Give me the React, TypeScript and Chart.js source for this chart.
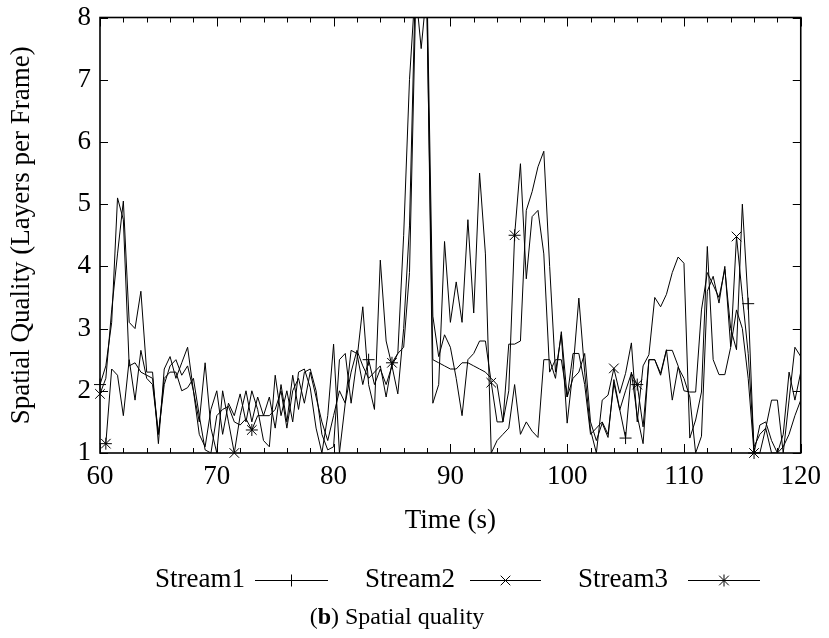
import { useEffect, useRef } from 'react';
import { Chart, registerables } from 'chart.js';

Chart.register(...registerables);

// ---- data ----
const times = [
  60, 60.5, 61, 61.5, 62, 62.5, 63, 63.5, 64, 64.5,
  65, 65.5, 66, 66.5, 67, 67.5, 68, 68.5, 69, 69.5,
  70, 70.5, 71, 71.5, 72, 72.5, 73, 73.5, 74, 74.5,
  75, 75.5, 76, 76.5, 77, 77.5, 78, 78.5, 79, 79.5,
  80, 80.5, 81, 81.5, 82, 82.5, 83, 83.5, 84, 84.5,
  85, 85.5, 86, 86.5, 87, 87.5, 88, 88.5, 89, 89.5,
  90, 90.5, 91, 91.5, 92, 92.5, 93, 93.5, 94, 94.5,
  95, 95.5, 96, 96.5, 97, 97.5, 98, 98.5, 99, 99.5,
  100, 100.5, 101, 101.5, 102, 102.5, 103, 103.5, 104, 104.5,
  105, 105.5, 106, 106.5, 107, 107.5, 108, 108.5, 109, 109.5,
  110, 110.5, 111, 111.5, 112, 112.5, 113, 113.5, 114, 114.5,
  115, 115.5, 116, 116.5, 117, 117.5, 118, 118.5, 119, 119.5,
  120,
];

const stream1 = [
  2.1, 2.4, 3.1, 5.1, 4.75, 2.4, 2.45, 2.3, 2.25, 2.2,
  1.3, 2.1, 2.4, 2.5, 2.25, 2.4, 2.0, 1.3, 1.1, 1.7,
  2.0, 1.3, 1.8, 1.6, 1.95, 1.5, 2.0, 1.7, 1.2, 1.1,
  2.25, 1.6, 2.0, 1.5, 2.3, 2.35, 2.05, 1.4, 1.0, 1.6,
  2.75, 1.0, 1.8, 2.65, 2.6, 2.1, 2.5, 2.1, 2.35, 2.1,
  2.4, 1.95, 3.0, 4.65, 8.5, 8.5, 8.2, 1.8, 2.1, 4.4,
  3.1, 3.75, 3.1, 4.75, 3.25, 5.5, 4.2, 1.0, 1.2, 1.3,
  1.4, 2.1, 1.3, 1.5, 1.35, 1.25, 2.5, 2.5, 2.2, 2.95,
  1.9, 2.2, 2.3, 2.6, 1.5, 1.2, 1.48, 1.25, 2.18, 1.7,
  1.24, 2.3, 1.6, 1.15, 2.5, 2.5, 2.25, 2.65, 2.65, 2.4,
  2.0, 1.98, 1.98, 3.3, 3.9, 3.7, 3.5, 3.95, 3.0, 2.66,
  5.0, 3.4, 1.0, 1.45, 1.5, 1.2, 1.0, 1.3, 2.3, 1.85,
  2.3,
];

const stream2 = [
  1.95, 2.2, 3.3, 4.2, 5.05, 3.1, 3.0, 3.6, 2.3, 2.3,
  1.15, 2.35, 2.55, 2.2, 2.45, 2.7, 2.0, 1.5, 2.45, 1.4,
  1.0, 2.0, 1.5, 1.0, 1.6, 2.0, 1.5, 1.9, 1.6, 1.9,
  1.4, 2.1, 1.5, 2.25, 1.7, 2.3, 2.35, 2.0, 1.3, 1.05,
  1.1, 2.5, 2.6, 1.8, 2.5, 3.35, 2.1, 1.7, 4.1, 2.8,
  2.4, 2.6, 4.5, 7.0, 8.5, 7.5, 8.5, 3.2, 2.55, 2.9,
  2.7, 2.2, 1.6, 2.5, 2.6, 2.8, 2.8, 2.13, 1.5, 1.5,
  2.75, 2.75, 2.8, 4.9, 5.2, 5.6, 5.85, 4.0, 2.3, 2.9,
  1.48, 2.34, 3.49, 2.3, 1.37, 1.0, 1.85, 1.93, 2.36, 1.96,
  2.28, 2.77, 1.5, 2.4, 2.58, 3.5, 3.35, 3.55, 3.9, 4.15,
  4.05, 1.24, 1.53, 1.98, 4.32, 2.5, 2.26, 2.26, 2.7, 4.48,
  3.52, 2.6, 1.1, 1.3, 1.4, 1.85, 1.85, 1.0, 1.85, 2.7,
  2.55,
];

const stream3 = [
  null, 1.15, 2.35, 2.25, 1.6, 2.5, 1.85, 2.65, 2.2, 2.1,
  1.3, 2.2, 2.3, 2.3, 2.0, 2.05, 2.2, 1.6, 1.05, 1.0,
  1.6, 1.7, 1.75, 1.5, 1.45, 1.55, 1.37, 1.6, 1.6, 1.6,
  1.7, 2.0, 1.4, 2.0, 2.2, 1.8, 2.3, 1.9, 1.5, 1.2,
  1.6, 2.0, 1.8, 2.3, 2.65, 2.4, 2.2, 2.3, 2.4, 1.9,
  2.45, 2.6, 2.7, 3.9, 8.0, 8.5, 8.0, 2.5, 2.45, 2.4,
  2.35, 2.35, 2.45, 2.45, 2.4, 2.35, 2.3, 2.2, 2.1, 1.5,
  2.0, 4.5, 5.65, 3.8, 4.8, 4.9, 4.2, 2.3, 2.5, 2.5,
  1.9, 2.6, 2.6, 2.1, 1.3, 1.4, 1.5, 1.3, 2.12, 1.69,
  2.0, 2.28, 2.1, 1.42, 2.5, 2.5, 2.28, 2.66, 1.85, 2.38,
  2.2, 1.9, 1.0, 1.27, 3.6, 3.84, 3.41, 4.0, 2.71, 3.3,
  3.0, 2.2, 1.0, 1.0, 1.4, 1.0, 1.0, 1.1, 1.3, 1.6,
  1.85,
];

// indices of points that carry a marker
const stream1Markers = [0, 46, 90, 111];
const stream2Markers = [0, 23, 67, 88, 109];
const stream3Markers = [1, 26, 50, 71, 92, 112];

const seriesNames = ['Stream1', 'Stream2', 'Stream3'];
const seriesValues = [stream1, stream2, stream3];
const seriesMarkers = [stream1Markers, stream2Markers, stream3Markers];
const seriesStyles = ['cross', 'crossRot', 'star'];

const xMin = 60;
const xMax = 120;
const xStep = 10;
const xMinorStep = 2;
const yMin = 1;
const yMax = 8;
const yStep = 1;

const xTitle = 'Time (s)';
const yTitle = 'Spatial Quality (Layers per Frame)';
const captionLabel = 'b';
const captionText = ' Spatial quality';

const FONT = '"Liberation Serif", "Times New Roman", serif';
const BIG = 27;
const MARK_R = 6;

function drawMarker(ctx: CanvasRenderingContext2D, style: string, x: number, y: number, r: number) {
  ctx.beginPath();
  if (style === 'cross' || style === 'star') {
    ctx.moveTo(x - r, y);
    ctx.lineTo(x + r, y);
    ctx.moveTo(x, y - r);
    ctx.lineTo(x, y + r);
  }
  if (style === 'crossRot' || style === 'star') {
    const d = r * 0.8;
    ctx.moveTo(x - d, y - d);
    ctx.lineTo(x + d, y + d);
    ctx.moveTo(x - d, y + d);
    ctx.lineTo(x + d, y - d);
  }
  ctx.stroke();
}

const framePlugin = {
  id: 'gnuFrame',
  afterDatasetsDraw(chart: any) {
    const { ctx, chartArea: a, scales } = chart;
    const xs = scales.x;
    const ys = scales.y;
    ctx.save();
    ctx.strokeStyle = '#000';
    ctx.lineWidth = 1;
    // markers drawn at the library's own point positions
    chart.data.datasets.forEach((ds: any, i: number) => {
      const meta = chart.getDatasetMeta(i);
      seriesMarkers[i].forEach((idx) => {
        const el = meta.data[idx];
        if (el && Number.isFinite(el.x) && Number.isFinite(el.y)) {
          drawMarker(ctx, seriesStyles[i], el.x, el.y, MARK_R);
        }
      });
    });
    ctx.beginPath();
    // minor + major x ticks, inward, top and bottom
    for (let v = xs.min; v <= xs.max + 1e-9; v += xMinorStep) {
      const px = Math.round(xs.getPixelForValue(v)) + 0.5;
      const major = Math.abs((v - xs.min) % xStep) < 1e-9;
      const len = major ? 9 : 5;
      ctx.moveTo(px, a.bottom);
      ctx.lineTo(px, a.bottom - len);
      ctx.moveTo(px, a.top);
      ctx.lineTo(px, a.top + len);
    }
    ys.ticks.forEach((t: any) => {
      const py = Math.round(ys.getPixelForValue(t.value)) + 0.5;
      ctx.moveTo(a.left, py);
      ctx.lineTo(a.left + 8, py);
      ctx.moveTo(a.right, py);
      ctx.lineTo(a.right - 8, py);
    });
    ctx.stroke();
    ctx.lineWidth = 1.6;
    ctx.strokeRect(a.left, a.top, a.right - a.left, a.bottom - a.top);
    ctx.restore();
  },
  afterDraw(chart: any) {
    const { ctx, chartArea: a } = chart;
    ctx.save();
    ctx.fillStyle = '#000';
    ctx.strokeStyle = '#000';
    // y title
    ctx.font = `${BIG}px ${FONT}`;
    ctx.textAlign = 'center';
    ctx.textBaseline = 'middle';
    ctx.save();
    ctx.translate(22, (a.top + a.bottom) / 2);
    ctx.rotate(-Math.PI / 2);
    ctx.fillText(yTitle, 0, 0);
    ctx.restore();
    // x title
    ctx.fillText(xTitle, (a.left + a.right) / 2, 521);
    // legend
    const legendY = 580;
    const textRight = [245, 455, 668];
    const lineStart = [255, 470, 688];
    const lineEnd = [328, 541, 760];
    ctx.textAlign = 'right';
    seriesNames.forEach((name, i) => {
      ctx.fillText(name, textRight[i], legendY);
      ctx.lineWidth = 1;
      ctx.beginPath();
      ctx.moveTo(lineStart[i], legendY + 0.5);
      ctx.lineTo(lineEnd[i], legendY + 0.5);
      ctx.stroke();
      drawMarker(ctx, seriesStyles[i], (lineStart[i] + lineEnd[i]) / 2, legendY + 0.5, MARK_R);
    });
    // caption
    const capFont = 24;
    ctx.textAlign = 'left';
    const partA = '(';
    const partC = ')';
    ctx.font = `${capFont}px ${FONT}`;
    const wA = ctx.measureText(partA).width;
    const wC = ctx.measureText(partC).width;
    const wD = ctx.measureText(captionText).width;
    ctx.font = `bold ${capFont}px ${FONT}`;
    const wB = ctx.measureText(captionLabel).width;
    const total = wA + wB + wC + wD;
    let cx = 397 - total / 2;
    const cy = 618;
    ctx.font = `${capFont}px ${FONT}`;
    ctx.fillText(partA, cx, cy);
    cx += wA;
    ctx.font = `bold ${capFont}px ${FONT}`;
    ctx.fillText(captionLabel, cx, cy);
    cx += wB;
    ctx.font = `${capFont}px ${FONT}`;
    ctx.fillText(partC, cx, cy);
    cx += wC;
    ctx.fillText(captionText, cx, cy);
    ctx.restore();
  },
};

export default function App() {
  const canvasRef = useRef<HTMLCanvasElement | null>(null);

  useEffect(() => {
    const canvas = canvasRef.current;
    if (!canvas) return;
    const datasets = seriesNames.map((name, i) => {
      const vals = seriesValues[i];
      return {
        label: name,
        data: times.map((t, j) => ({ x: t, y: vals[j] })),
        borderColor: '#000',
        backgroundColor: '#000',
        borderWidth: 1,
        tension: 0,
        pointRadius: 0,
        pointHoverRadius: 0,
        spanGaps: false,
      };
    });
    const chart = new Chart(canvas, {
      type: 'line',
      data: { datasets } as any,
      plugins: [framePlugin],
      options: {
        responsive: false,
        animation: false,
        events: [],
        layout: { padding: { left: 0, top: 17.5, right: 28, bottom: 0 } },
        plugins: {
          legend: { display: false },
          tooltip: { enabled: false },
          title: { display: false },
        },
        scales: {
          x: {
            type: 'linear',
            min: xMin,
            max: xMax,
            grid: { display: false, drawTicks: false },
            border: { display: false },
            ticks: {
              stepSize: xStep,
              color: '#000',
              padding: 8,
              maxRotation: 0,
              font: { family: FONT, size: BIG },
            },
            afterFit: (s: any) => {
              s.height = 185;
            },
          },
          y: {
            type: 'linear',
            min: yMin,
            max: yMax,
            grid: { display: false, drawTicks: false },
            border: { display: false },
            ticks: {
              stepSize: yStep,
              color: '#000',
              padding: 9,
              font: { family: FONT, size: BIG, lineHeight: 0.5 },
            },
            afterFit: (s: any) => {
              s.width = 100;
            },
          },
        },
      } as any,
    });
    return () => chart.destroy();
  }, []);

  return (
    <div style={{ position: 'absolute', left: 0, top: 0, width: 829, height: 638, background: '#fff' }}>
      <canvas ref={canvasRef} width={829} height={638} style={{ width: 829, height: 638 }} />
    </div>
  );
}
